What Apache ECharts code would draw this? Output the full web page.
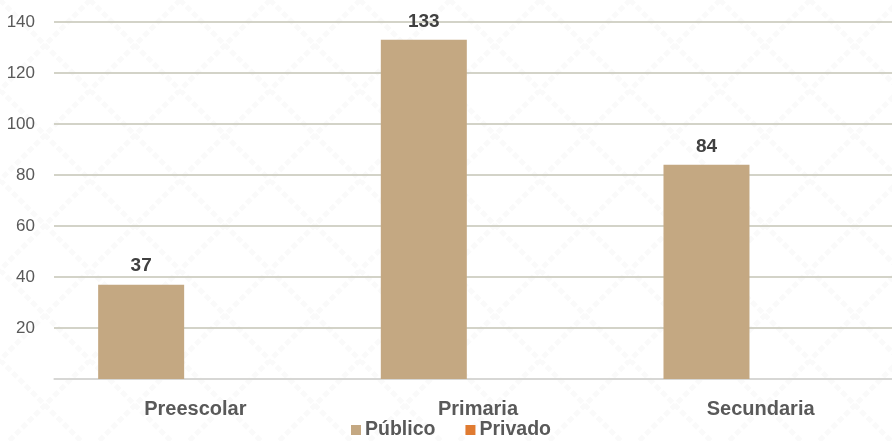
<!DOCTYPE html>
<html>
<head>
<meta charset="utf-8">
<script src="https://cdn.jsdelivr.net/npm/echarts@6/dist/echarts.min.js"></script>
<style>
html,body{margin:0;padding:0;background:#fff;overflow:hidden;}
#c{width:902px;height:441px;}
</style>
</head>
<body>
<div id="c"></div>
<script>
const categories = ['Preescolar', 'Primaria', 'Secundaria'];
const publico = [37, 133, 84];
const privado = [0, 0, 0];
const seriesNames = ['Público', 'Privado'];
const yTicks = [0, 20, 40, 60, 80, 100, 120, 140];

// faint diamond lattice background
const T = 90;
const tile = document.createElement('canvas');
tile.width = T; tile.height = T;
const tc = tile.getContext('2d');
tc.fillStyle = '#ffffff';
tc.fillRect(0, 0, T, T);
tc.strokeStyle = '#fafafa';
tc.lineWidth = 5;
tc.setLineDash([6, 3]);
tc.beginPath();
tc.moveTo(0, 0); tc.lineTo(T, T);
tc.moveTo(T, 0); tc.lineTo(0, T);
tc.stroke();

const chart = echarts.init(document.getElementById('c'), null, {renderer: 'canvas'});
const font = 'Liberation Sans, Arial, sans-serif';
chart.setOption({
  backgroundColor: {image: tile, repeat: 'repeat'},
  animation: false,
  textStyle: {fontFamily: font},
  grid: {left: 54, right: 0, top: 22, bottom: 62, containLabel: false},
  legend: {
    data: seriesNames,
    top: 420,
    left: 'center',
    padding: 0,
    itemWidth: 10, itemHeight: 10, itemGap: 30,
    icon: 'rect',
    textStyle: {fontSize: 19.5, fontWeight: 'bold', color: '#595959', fontFamily: font, padding: [0, 0, 0, -1]}
  },
  xAxis: {
    type: 'category',
    data: categories,
    axisLine: {show: true, lineStyle: {color: '#d9d9d9', width: 1.5}},
    axisTick: {show: false},
    axisLabel: {fontSize: 20, fontWeight: 'bold', color: '#595959', margin: 20, fontFamily: font}
  },
  yAxis: {
    type: 'value',
    min: yTicks[0], max: yTicks[yTicks.length - 1], interval: 20,
    axisLine: {show: false},
    axisTick: {show: false},
    splitLine: {lineStyle: {color: '#c4c4b6', width: 1.5}},
    axisLabel: {
      fontSize: 17, color: '#595959', margin: 19, fontFamily: font,
      formatter: v => v === 0 ? '' : String(v)
    }
  },
  series: [
    {
      name: seriesNames[0], type: 'bar', data: publico,
      barWidth: 86, barGap: '26%',
      itemStyle: {color: '#C4A882'},
      label: {show: true, position: 'top', distance: 9, fontSize: 19, fontWeight: 'bold', color: '#404040', fontFamily: font}
    },
    {
      name: seriesNames[1], type: 'bar', data: privado,
      barWidth: 86,
      itemStyle: {color: '#E07B31'}
    }
  ]
});
</script>
</body>
</html>
